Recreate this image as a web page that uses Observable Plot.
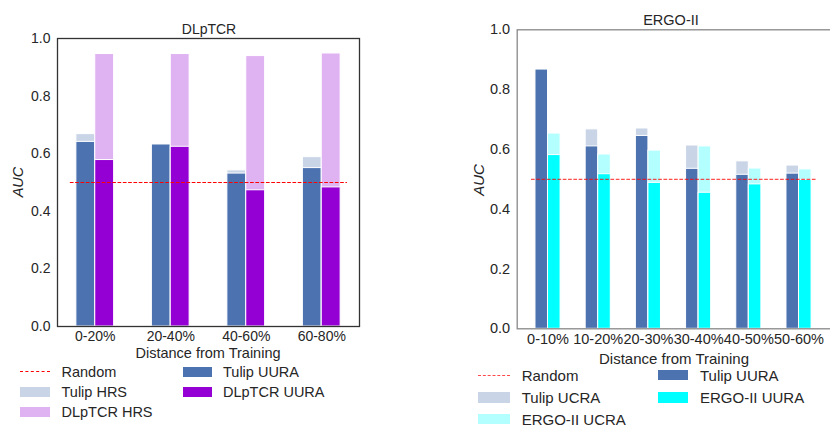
<!DOCTYPE html>
<html>
<head>
<meta charset="utf-8">
<script src="https://cdn.jsdelivr.net/npm/d3@7"></script>
<script src="https://cdn.jsdelivr.net/npm/@observablehq/plot@0.6"></script>
<style>
  body { margin: 0; background: #fff; }
  #root { position: relative; width: 830px; height: 427px; overflow: hidden; font-family: "Liberation Sans", Arial, sans-serif; color: #262626; background: #fff; }
  .t { position: absolute; white-space: nowrap; transform: translate(-50%, -50%); }
  .lt { position: absolute; white-space: nowrap; transform: translateY(-50%); }
  .patch { position: absolute; }
  .dash { position: absolute; height: 0; }
</style>
</head>
<body>
<div id="root"></div>
<script>
// ---- Data ----
const dlCategories = ["0-20%", "20-40%", "40-60%", "60-80%"];
const dlTulipHRS   = [0.668, 0.630, 0.542, 0.588];
const dlTulipUURA  = [0.641, 0.632, 0.531, 0.550];
const dlDLpTCRHRS  = [0.946, 0.946, 0.939, 0.948];
const dlDLpTCRUURA = [0.578, 0.624, 0.473, 0.483];

const ergoCategories = ["0-10%", "10-20%", "20-30%", "30-40%", "40-50%", "50-60%"];
const ergoTulipUCRA  = [0.860, 0.667, 0.670, 0.613, 0.560, 0.546];
const ergoTulipUURA  = [0.867, 0.610, 0.645, 0.535, 0.515, 0.519];
const ergoERGOUCRA   = [0.653, 0.583, 0.596, 0.610, 0.536, 0.533];
const ergoERGOUURA   = [0.581, 0.517, 0.488, 0.455, 0.483, 0.498];

const randomAUC = 0.5;
const yTicks = [0, 0.2, 0.4, 0.6, 0.8, 1.0];

// ---- Colours ----
const C = {
  tulip: "#4c72b0", tulipLight: "#c9d5e7",
  dl: "#9400d3", dlLight: "#dfb3f2",
  ergo: "#00ffff", ergoLight: "#b3ffff",
  red: "#ff0000"
};

const root = document.getElementById("root");

function bars(values, offset, fill) {
  return Plot.rect(values.map((v, i) => ({i, v})), {
    x1: d => d.i + offset, x2: d => d.i + offset + 0.25,
    y1: 0, y2: "v", fill, stroke: "white", strokeWidth: 1
  });
}

function panel({cats, series, frameColor, width, height, margins, xDomain, randomStyle, fontSize}) {
  const n = cats.length;
  return Plot.plot({
    width, height,
    marginLeft: margins[0], marginRight: margins[1], marginTop: margins[2], marginBottom: margins[3],
    style: {fontSize: fontSize + "px", fontFamily: "'Liberation Sans', Arial, sans-serif", color: "#262626", background: "transparent", overflow: "visible"},
    x: {type: "linear", domain: xDomain},
    y: {domain: [0, 1]},
    marks: [
      ...series.map(s => bars(s.values, s.offset, s.fill)),
      Plot.ruleY([randomAUC], {x1: -0.33, x2: n - 1 + 0.34, stroke: C.red, strokeWidth: 1.2, strokeDasharray: "3.7,1.6", strokeOpacity: randomStyle}),
      Plot.axisX({ticks: d3.range(n), tickFormat: i => cats[i], tickSize: 0, tickPadding: 5, label: null, fill: "#262626"}),
      Plot.axisY({ticks: yTicks, tickFormat: d3.format(".1f"), tickSize: 0, tickPadding: 7, label: null, fill: "#262626"}),
      Plot.frame({stroke: frameColor, strokeWidth: 1.3})
    ]
  });
}

function place(el, left, top) {
  el.style.position = "absolute";
  el.style.left = left + "px";
  el.style.top = top + "px";
  root.appendChild(el);
}

function text(str, x, y, size, extra = "") {
  const d = document.createElement("div");
  d.className = "t";
  d.style.cssText = `left:${x}px;top:${y}px;font-size:${size}px;${extra}`;
  d.textContent = str;
  root.appendChild(d);
}
function ltext(str, x, y, size) {
  const d = document.createElement("div");
  d.className = "lt";
  d.style.cssText = `left:${x}px;top:${y}px;font-size:${size}px;`;
  d.textContent = str;
  root.appendChild(d);
}
function patch(x, y, w, h, color) {
  const d = document.createElement("div");
  d.className = "patch";
  d.style.cssText = `left:${x}px;top:${y - h / 2}px;width:${w}px;height:${h}px;background:${color};`;
  root.appendChild(d);
}
function dash(x, y, w, color, opacity) {
  const d = document.createElement("div");
  d.className = "dash";
  d.style.cssText = `left:${x}px;top:${y}px;width:${w}px;border-top:1px dashed ${color};opacity:${opacity};`;
  root.appendChild(d);
}

// ---- Left panel: DLpTCR ----
const left = panel({
  cats: dlCategories,
  series: [
    {values: dlTulipHRS, offset: -0.25, fill: C.tulipLight},
    {values: dlTulipUURA, offset: -0.25, fill: C.tulip},
    {values: dlDLpTCRHRS, offset: 0, fill: C.dlLight},
    {values: dlDLpTCRUURA, offset: 0, fill: C.dl}
  ],
  frameColor: "#333",
  width: 370, height: 365,
  margins: [57, 11, 38, 39],
  xDomain: [-0.5, 3.5],
  randomStyle: 1,
  fontSize: 14
});
place(left, 0, 0);

text("DLpTCR", 209, 29, 14);
text("AUC", 18, 182, 14.5, "transform:translate(-50%,-50%) rotate(-90deg);font-style:italic;");
text("Distance from Training", 208, 353, 14.5);

// Left legend
dash(20, 371, 30, C.red, 1);
ltext("Random", 61.5, 371.7, 14.5);
patch(20, 391.7, 30, 10, C.tulipLight);
ltext("Tulip HRS", 61.5, 391.7, 14.5);
patch(20, 411.7, 30, 10, C.dlLight);
ltext("DLpTCR HRS", 61.5, 411.7, 14.5);
patch(183, 371.7, 29, 10, C.tulip);
ltext("Tulip UURA", 223, 371.7, 14.5);
patch(183, 391.7, 29, 10, C.dl);
ltext("DLpTCR UURA", 223, 391.7, 14.5);

// ---- Right panel: ERGO-II ----
const right = panel({
  cats: ergoCategories,
  series: [
    {values: ergoTulipUCRA, offset: -0.25, fill: C.tulipLight},
    {values: ergoTulipUURA, offset: -0.25, fill: C.tulip},
    {values: ergoERGOUCRA, offset: 0, fill: C.ergoLight},
    {values: ergoERGOUURA, offset: 0, fill: C.ergo}
  ],
  frameColor: "#888",
  width: 400, height: 370,
  margins: [76.7, 9, 29.3, 41.7],
  xDomain: [-0.614, 5.647],
  randomStyle: 0.7,
  fontSize: 14.5
});
place(right, 440, 0);

text("ERGO-II", 671, 20, 14.5);
text("AUC", 478, 180, 15, "transform:translate(-50%,-50%) rotate(-90deg);font-style:italic;");
text("Distance from Training", 674, 358.3, 15);

// Right legend
dash(478, 374.5, 32, C.red, 0.7);
ltext("Random", 521.7, 375, 15);
patch(478, 397.3, 32, 10.5, C.tulipLight);
ltext("Tulip UCRA", 521.7, 397.3, 15);
patch(478, 419, 32, 10.5, C.ergoLight);
ltext("ERGO-II UCRA", 521.7, 419, 15);
patch(658, 375, 30, 10.5, C.tulip);
ltext("Tulip UURA", 700, 375, 15);
patch(658, 397.3, 30, 10.5, C.ergo);
ltext("ERGO-II UURA", 700, 397.3, 15);
</script>
</body>
</html>
